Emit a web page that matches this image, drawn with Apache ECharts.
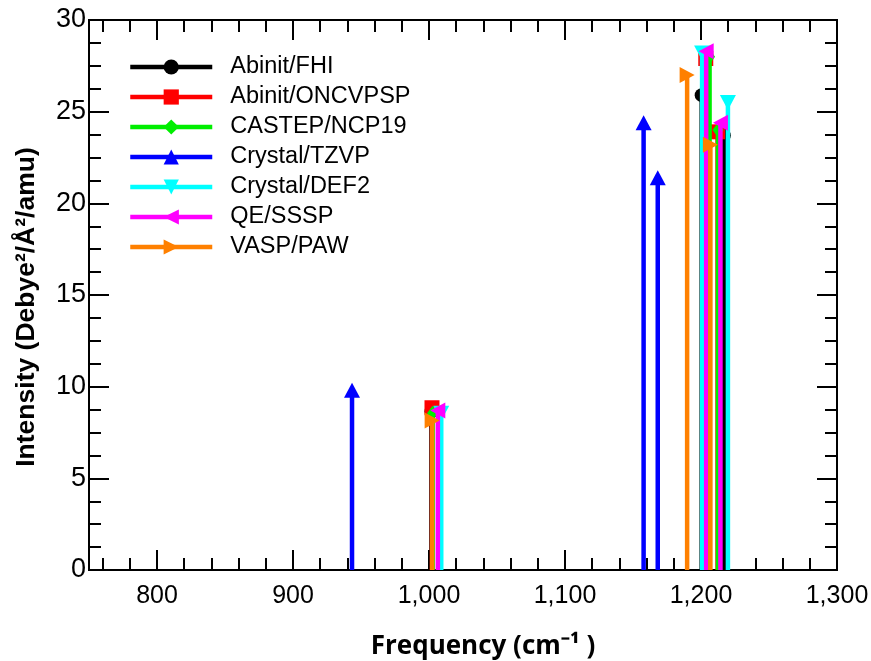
<!DOCTYPE html>
<html>
<head>
<meta charset="utf-8">
<script src="https://cdn.jsdelivr.net/npm/echarts@6/dist/echarts.min.js"></script>
<style>html,body{margin:0;padding:0;background:#fff}#c{width:871px;height:661px}</style>
</head>
<body>
<div id="c"></div>
<script>
// ---- data ----
const seriesNames = ['Abinit/FHI','Abinit/ONCVPSP','CASTEP/NCP19','Crystal/TZVP','Crystal/DEF2','QE/SSSP','VASP/PAW'];
const fhiFreq = [1001.8, 1200.5, 1216.8];
const fhiInt  = [8.65, 25.9, 23.7];
const oncvFreq = [1002.2, 1203.5, 1212.2];
const oncvInt  = [8.85, 27.9, 23.9];
const castepFreq = [1002.6, 1206.3, 1212.5];
const castepInt  = [8.55, 28.0, 24.0];
const tzvpFreq = [943.4, 1157.8, 1168.2];
const tzvpInt  = [9.8, 24.4, 21.4];
const def2Freq = [1009.0, 1200.8, 1219.8];
const def2Int  = [8.55, 28.2, 25.5];
const qeFreq = [1006.5, 1203.8, 1214.3];
const qeInt  = [8.7, 28.3, 24.4];
const vaspFreq = [1002.3, 1189.8, 1206.9];
const vaspInt  = [8.15, 27.0, 23.2];
const xTickLabels = [800, 900, 1000, 1100, 1200, 1300];
const xMinorTicks = [760,780,820,840,860,880,920,940,960,980,1020,1040,1060,1080,1120,1140,1160,1180,1220,1240,1260,1280];
const yTickLabels = [0, 5, 10, 15, 20, 25, 30];
const yMinorTicks = [1.25,2.5,3.75,6.25,7.5,8.75,11.25,12.5,13.75,16.25,17.5,18.75,21.25,22.5,23.75,26.25,27.5,28.75];

const freqs = [fhiFreq, oncvFreq, castepFreq, tzvpFreq, def2Freq, qeFreq, vaspFreq];
const ints  = [fhiInt, oncvInt, castepInt, tzvpInt, def2Int, qeInt, vaspInt];
const colors = ['#000000','#ff0000','#00ee00','#0000ff','#00ffff','#ff00ff','#ff8000'];
const symbols = ['circle','rect','diamond','triangle',
  'path://M0,0 L10,0 L5,9 Z',
  'path://M9,0 L9,10 L0,5 Z',
  'path://M0,0 L0,10 L9,5 Z'];
const symbolSizes = [14, 15, [11,15], [16,15], [16,15], [15,16], [15,16]];

const chart = echarts.init(document.getElementById('c'), null, {renderer:'canvas'});

function stickData(f, v) {
  const out = [];
  for (let i = 0; i < f.length; i++) {
    out.push({value:[f[i], 0], symbol:'none'});
    out.push({value:[f[i], v[i]]});
    out.push({value:[f[i], '-'], symbol:'none'});
  }
  return out;
}

const series = seriesNames.map((n, k) => ({
  name: n, type: 'line', xAxisIndex: 0, yAxisIndex: 0,
  data: stickData(freqs[k], ints[k]),
  connectNulls: false,
  symbol: symbols[k], symbolSize: symbolSizes[k], showAllSymbol: true,
  lineStyle: {color: colors[k], width: 4.5},
  itemStyle: {color: colors[k]},
  animation: false, z: 2 + k
}));

const axisLine = {show: true, onZero: false, lineStyle: {color: '#000', width: 2}};
function xAx(pos, labels, minor) {
  return {
    type: 'value', min: 750, max: 1300, position: pos, gridIndex: 0,
    axisLine: axisLine,
    splitLine: {show: false},
    axisTick: {show: true, inside: true, length: minor ? 12 : 20,
      customValues: minor ? xMinorTicks : xTickLabels, lineStyle: {color: '#000', width: 2}},
    axisLabel: {show: labels, customValues: xTickLabels, margin: 14,
      fontFamily: 'Liberation Sans', fontSize: 25, color: '#000',
      formatter: v => v.toLocaleString('en-US')},
  };
}
function yAx(pos, labels, minor) {
  return {
    type: 'value', min: 0, max: 30, position: pos, gridIndex: 0,
    axisLine: axisLine,
    splitLine: {show: false},
    axisTick: {show: true, inside: true, length: minor ? 12 : 20,
      customValues: minor ? yMinorTicks : yTickLabels, lineStyle: {color: '#000', width: 2}},
    axisLabel: {show: labels, customValues: yTickLabels, margin: 3,
      fontFamily: 'Liberation Sans', fontSize: 27, color: '#000'},
  };
}

const xAxes = [xAx('bottom', true, false), xAx('bottom', false, true), xAx('top', false, false), xAx('top', false, true)];
xAxes[0].name = 'Frequency (cm\u207B\u00B9 )';
xAxes[0].nameLocation = 'middle';
xAxes[0].nameGap = 64;
xAxes[0].nameTextStyle = {fontFamily: 'Open Sans', fontWeight: 'bold', fontSize: 26, color: '#000', padding: [0,0,0,40]};
const yAxes = [yAx('left', true, false), yAx('left', false, true), yAx('right', false, false), yAx('right', false, true)];
yAxes[0].name = 'Intensity (Debye\u00B2/\u00C5\u00B2/amu)';
yAxes[0].nameLocation = 'middle';
yAxes[0].nameGap = 49;
yAxes[0].nameRotate = 90;
yAxes[0].nameTextStyle = {fontFamily: 'Liberation Sans', fontWeight: 'bold', fontSize: 26.5, color: '#000', padding: [0,24,0,0]};

chart.setOption({
  animation: false,
  backgroundColor: '#fff',
  grid: {left: 89, right: 34, top: 20, bottom: 91, containLabel: false, outerBoundsMode: 'none'},
  legend: {
    data: seriesNames, orient: 'vertical', left: 123, top: 50,
    itemWidth: 82, itemHeight: 19, itemGap: 6,
    lineStyle: {width: 4.5},
    textStyle: {fontFamily: 'Liberation Sans', fontSize: 23.5, color: '#000', lineHeight: 23.5, padding: [0,0,0,13]},
    selectedMode: false
  },
  xAxis: xAxes,
  yAxis: yAxes,
  series: series
});
</script>
</body>
</html>
